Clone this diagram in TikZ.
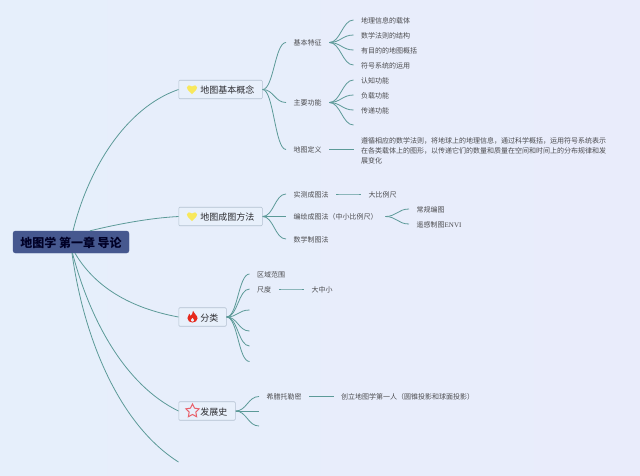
\documentclass[tikz,border=0pt]{standalone}
\usepackage{fontspec}
\setmainfont{Noto Sans CJK SC}
\newfontfamily\latinserif{Liberation Serif}
\usetikzlibrary{shapes.geometric}
\definecolor{bgleft}{HTML}{E6EFFB}
\definecolor{bgright}{HTML}{E9ECFB}
\definecolor{branchc}{HTML}{5C9A98}
\definecolor{boxfill}{HTML}{E8F0FB}
\definecolor{boxline}{HTML}{B3C1D0}
\definecolor{rootfill}{HTML}{46588F}
\definecolor{textc}{HTML}{2B2B2F}
\definecolor{heartc}{HTML}{F8E85C}
\definecolor{flamec}{HTML}{E62A1E}
\definecolor{starc}{HTML}{E8606A}
\tikzset{
  x=1pt,y=-1pt,
  rootbox/.style={draw=rootfill,fill=rootfill,rounded corners=2.5pt,minimum width=116pt,minimum height=22pt,inner sep=0pt,text height=13pt,text depth=2pt,font=\fontsize{12}{14}\selectfont\bfseries,text=black!85!blue},
  mainbox/.style={draw=boxline,fill=boxfill,rounded corners=1pt,line width=.6pt,minimum height=18.5pt,inner xsep=8pt,inner ysep=0pt,anchor=west,text height=10pt,text depth=1.5pt,font=\fontsize{9}{11}\selectfont,text=textc},
  leaf/.style={anchor=west,inner xsep=7.5pt,inner ysep=1pt,text height=7.8pt,text depth=1pt,font=\fontsize{7}{10}\selectfont,text=textc!85},
  paragraphleaf/.style={leaf,text height=,text depth=,align=left},
  trunk/.style={draw=branchc,line width=.8pt},
  twig/.style={draw=branchc,line width=.8pt,out=0,in=180,out distance=11pt,in distance=11pt},
  pics/heartmark/.style={code={\fill[heartc,scale=1.1] (0,4.2) .. controls (-2,2.5) and (-4.6,0) .. (-4.6,-2) .. controls (-4.6,-4) and (-1.5,-4.5) .. (0,-2.8) .. controls (1.5,-4.5) and (4.6,-4) .. (4.6,-2) .. controls (4.6,0) and (2,2.5) .. (0,4.2) -- cycle;}},
  pics/flamemark/.style={code={\fill[flamec,even odd rule,scale=1.1] (.5,-5.5) .. controls (1.2,-3) and (4.6,-1.5) .. (4.6,1.2) .. controls (4.6,3.6) and (2.4,5) .. (0,5) .. controls (-2.4,5) and (-4.6,3.6) .. (-4.6,1) .. controls (-4.6,-.8) and (-3.4,-1.6) .. (-3,-3) .. controls (-2.2,-2.4) and (-1.8,-1.8) .. (-1.6,-1) .. controls (-.6,-2.2) and (.2,-3.6) .. (.5,-5.5) -- cycle (0,.5) .. controls (-1,2) and (-1.9,2.4) .. (-1.5,3.6) .. controls (-1,4.6) and (1,4.6) .. (1.5,3.6) .. controls (1.9,2.4) and (.8,2) .. (0,.5) -- cycle;}}
}
\begin{document}
\begin{tikzpicture}
\useasboundingbox (0,0) rectangle (640,475);
\shade[left color=bgleft,right color=bgright] (0,0) rectangle (640,475);

\node[rootbox] (root) at (71,242) {地图学 第一章 导论};
\node[mainbox] (m1) at (178.5,89.5) {\hspace*{13.5pt}地图基本概念};
\node[mainbox] (m2) at (178.5,216.5) {\hspace*{13.5pt}地图成图方法};
\node[mainbox] (m3) at (178.5,317) {\hspace*{13.5pt}分类};
\node[mainbox] (m4) at (178.5,411) {\hspace*{13.5pt}发展史};
\coordinate (m5) at (178.5,462);

\pic at ([xshift=13.5pt]m1.west) {heartmark};
\pic at ([xshift=13.5pt]m2.west) {heartmark};
\pic at ([xshift=14pt]m3.west) {flamemark};
\node[star,star points=5,star point ratio=2,draw=starc,fill=boxfill,line width=1pt,minimum size=14pt,inner sep=0pt] (starmark) at ([xshift=14pt]m4.west) {};

\draw[trunk] ([xshift=2pt]root.north) .. controls (88,170) and (125,108) .. (m1.west);
\draw[trunk] ([xshift=19pt]root.north) .. controls (118,224) and (150,218) .. (m2.west);
\draw[trunk] ([xshift=4pt]root.south) .. controls (95,287) and (130,308) .. (m3.west);
\draw[trunk] ([xshift=1.5pt]root.south) .. controls (90,320) and (125,385) .. (m4.west);
\draw[trunk] ([xshift=1pt]root.south) .. controls (84,340) and (120,425) .. (m5);

% group 1
\node[leaf] (a1) at (286,42.5) {基本特征};
\node[leaf] (a2) at (286,102.5) {主要功能};
\node[leaf] (a3) at (286,149.5) {地图定义};
\draw[twig] (m1.east) to (a1.west);
\draw[twig] (m1.east) to (a2.west);
\draw[twig] (m1.east) to (a3.west);

\node[leaf] (a11) at (353.5,20) {地理信息的载体};
\node[leaf] (a12) at (353.5,35) {数学法则的结构};
\node[leaf] (a13) at (353.5,50) {有目的的地图概括};
\node[leaf] (a14) at (353.5,65) {符号系统的运用};
\draw[twig] (a1.east) to (a11.west);
\draw[twig] (a1.east) to (a12.west);
\draw[twig] (a1.east) to (a13.west);
\draw[twig] (a1.east) to (a14.west);

\node[leaf] (a21) at (353.5,80) {认知功能};
\node[leaf] (a22) at (353.5,95) {负载功能};
\node[leaf] (a23) at (353.5,110) {传递功能};
\coordinate (a24) at (353.5,125);
\draw[twig] (a2.east) to (a21.west);
\draw[twig] (a2.east) to (a22.west);
\draw[twig] (a2.east) to (a23.west);
\draw[twig] (a2.east) to (a24);

\node[paragraphleaf] (a31) at (353.5,149.5) {\rule{0pt}{8.5pt}遵循相应的数学法则，将地球上的地理信息，通过科学概括，运用符号系统表示\\在各类载体上的图形，以传递它们的数量和质量在空间和时间上的分布规律和发\\展变化};
\draw[twig] (a3.east) to (a31.west);

% group 2
\node[leaf] (b1) at (286,194) {实测成图法};
\node[leaf] (b2) at (286,216.5) {编绘成图法（中小比例尺）};
\node[leaf] (b3) at (286,239) {数学制图法};
\draw[twig] (m2.east) to (b1.west);
\draw[twig] (m2.east) to (b2.west);
\draw[twig] (m2.east) to (b3.west);

\node[leaf] (b11) at (361,194) {大比例尺};
\draw[twig] (b1.east) to (b11.west);
\node[leaf] (b21) at (409,209) {常规编图};
\node[leaf] (b22) at (409,224) {遥感制图{\latinserif ENVI}};
\draw[twig] (b2.east) to (b21.west);
\draw[twig] (b2.east) to (b22.west);

% group 3
\node[leaf] (c1) at (249.5,274) {区域范围};
\node[leaf] (c2) at (249.5,289) {尺度};
\coordinate (c3) at (249.5,310);
\coordinate (c4) at (249.5,331);
\coordinate (c5) at (249.5,346);
\coordinate (c6) at (249.5,361.5);
\draw[twig] (m3.east) to (c1.west);
\draw[twig] (m3.east) to (c2.west);
\draw[twig] (m3.east) to (c3);
\draw[twig] (m3.east) to (c4);
\draw[twig] (m3.east) to (c5);
\draw[twig] (m3.east) to (c6);
\node[leaf] (c21) at (304,289) {大中小};
\draw[twig] (c2.east) to (c21.west);

% group 4
\node[leaf] (d1) at (259,396.5) {希腊托勒密};
\coordinate (d2) at (259,411);
\coordinate (d3) at (259,426);
\draw[twig] (m4.east) to (d1.west);
\draw[twig] (m4.east) to (d2);
\draw[twig] (m4.east) to (d3);
\node[leaf] (d11) at (333.5,396.5) {创立地图学第一人（圆锥投影和球面投影）};
\draw[twig] (d1.east) to (d11.west);
\end{tikzpicture}
\end{document}
